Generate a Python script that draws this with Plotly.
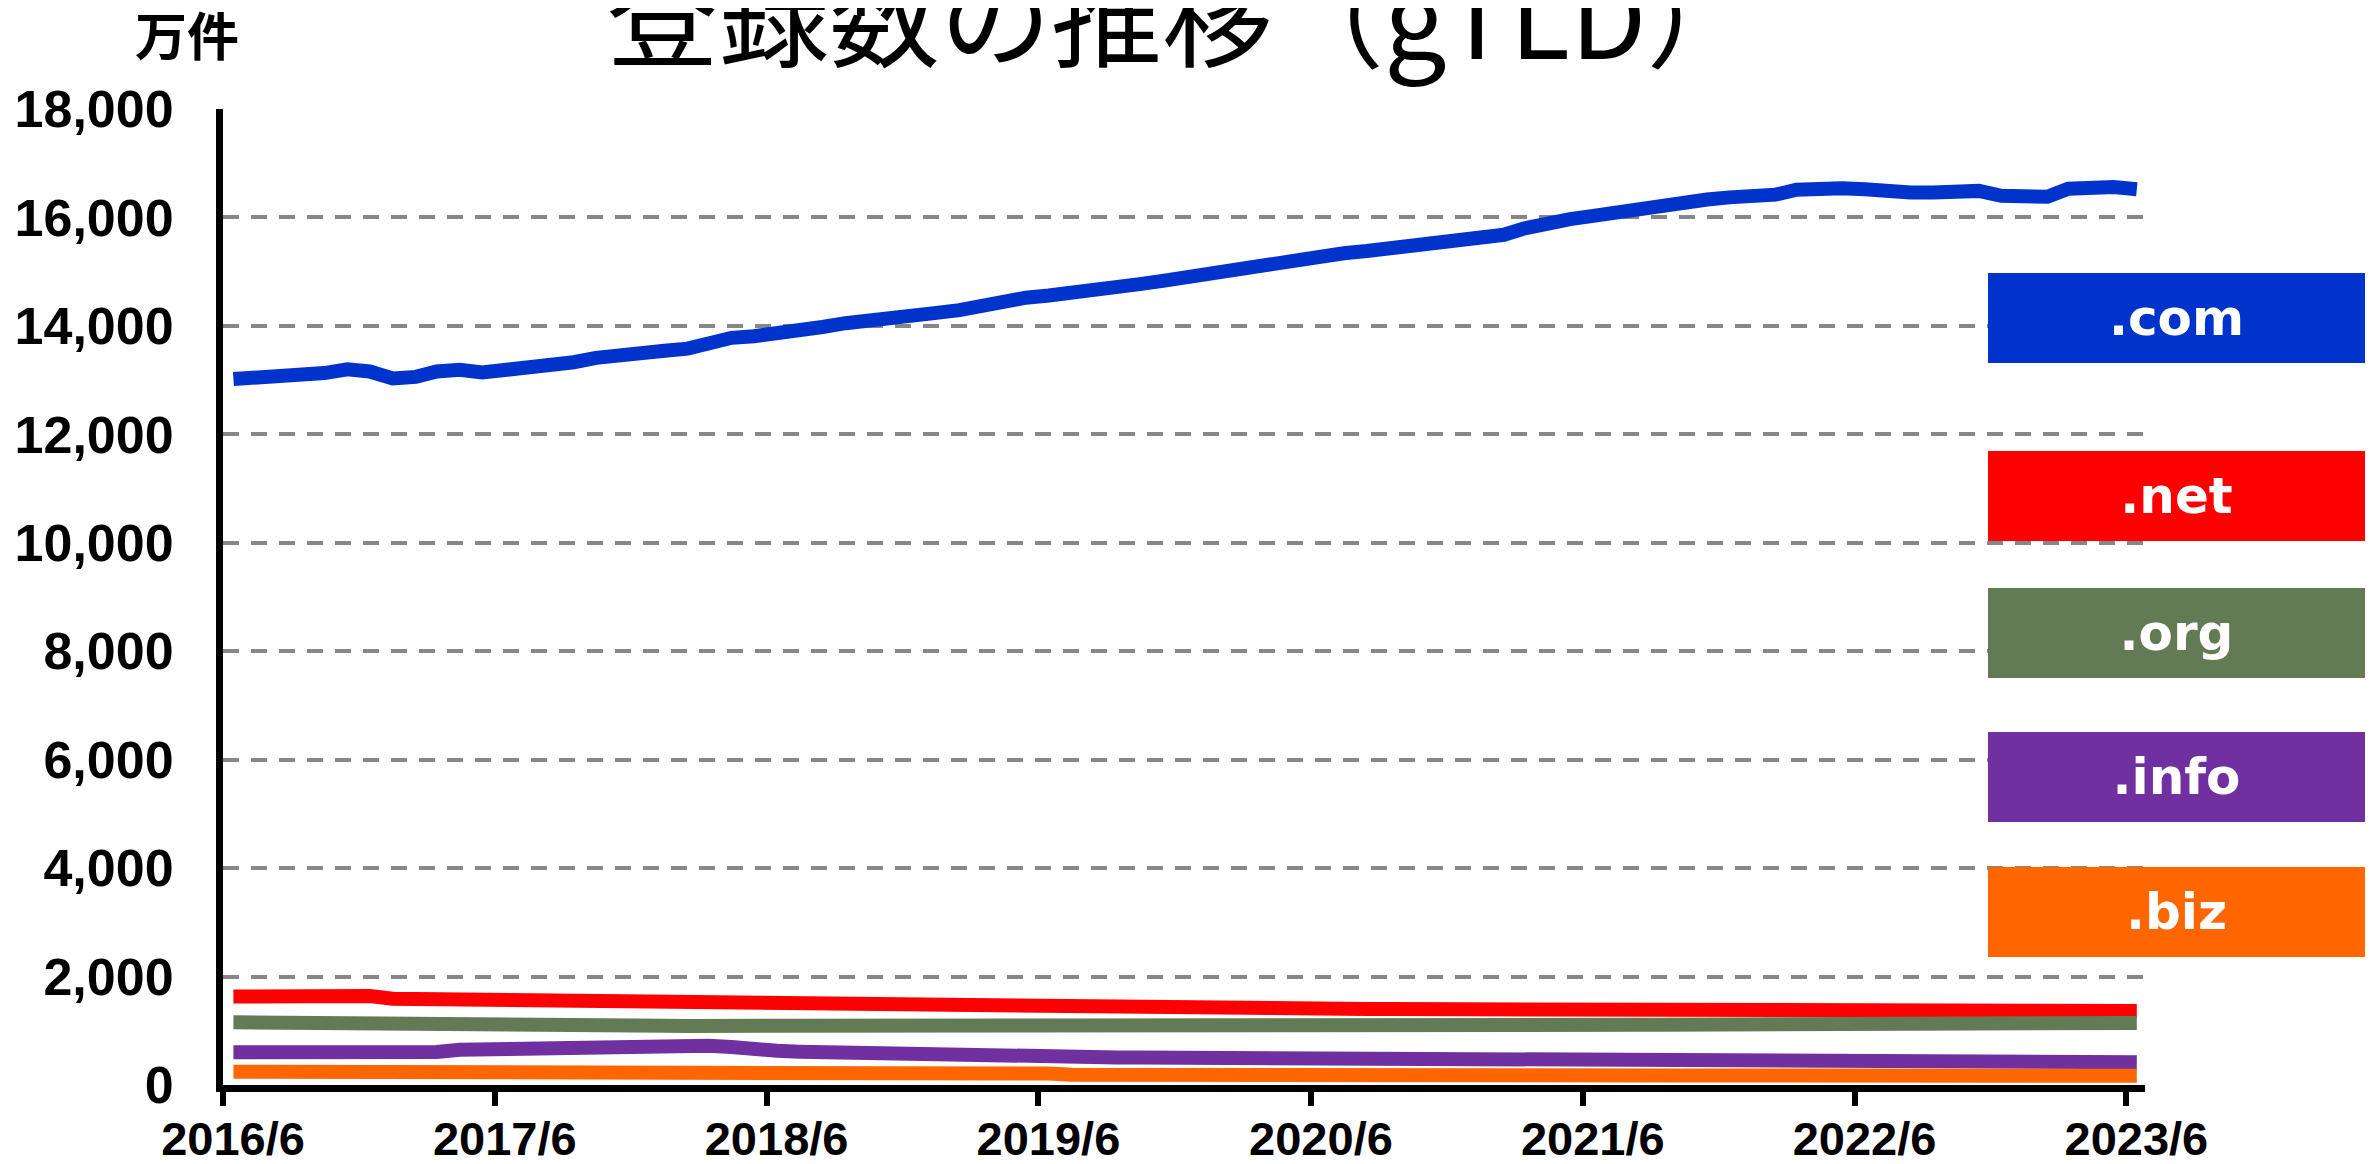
import pandas as pd
import plotly.graph_objects as go

# monthly values, 2016/6 .. 2023/6 (unit: 万件)
months = pd.date_range('2016-06-01', periods=85, freq='MS') + pd.Timedelta(days=14)

com = [13020, 13035, 13050, 13090, 13130, 13200, 13160, 13030, 13060, 13160,
       13190, 13140, 13180, 13220, 13270, 13330, 13410, 13470, 13500, 13540,
       13580, 13700, 13780, 13810, 13850, 13920, 13980, 14050, 14110, 14170,
       14200, 14240, 14290, 14380, 14470, 14520, 14560, 14600, 14640, 14700,
       14770, 14830, 14900, 14960, 15000, 15060, 15170, 15250, 15300, 15340,
       15380, 15430, 15480, 15530, 15580, 15630, 15680, 15800, 15900, 15970,
       16030, 16100, 16170, 16210, 16250, 16330, 16370, 16390, 16420, 16510,
       16540, 16540, 16520, 16470, 16460, 16460, 16470, 16490, 16400, 16360,
       16380, 16530, 16560, 16560, 16520]

net = [1630, 1630, 1630, 1640, 1650, 1670, 1640, 1590, 1585, 1585,
       1590, 1590, 1580, 1570, 1565, 1560, 1555, 1530, 1500, 1490,
       1490, 1485, 1480, 1478, 1475, 1470, 1465, 1460, 1455, 1450,
       1448, 1445, 1440, 1437, 1435, 1430, 1420, 1410, 1400, 1395,
       1390, 1395, 1398, 1400, 1400, 1400, 1400, 1400, 1400, 1400,
       1400, 1400, 1400, 1400, 1400, 1400, 1400, 1400, 1400, 1400,
       1400, 1398, 1396, 1394, 1392, 1390, 1388, 1386, 1385, 1384,
       1382, 1381, 1380, 1379, 1378, 1377, 1376, 1375, 1374, 1372,
       1370, 1369, 1368, 1366, 1365]

org = [1155, 1155, 1150, 1150, 1148, 1145, 1135, 1120, 1110, 1105,
       1100, 1098, 1095, 1095, 1094, 1093, 1092, 1092, 1091, 1091,
       1090, 1090, 1090, 1090, 1090, 1085, 1082, 1080, 1078, 1075,
       1072, 1070, 1066, 1063, 1060, 1050, 1048, 1050, 1055, 1060,
       1062, 1065, 1068, 1072, 1075, 1078, 1080, 1083, 1086, 1089,
       1092, 1094, 1096, 1098, 1100, 1101, 1102, 1104, 1105, 1106,
       1107, 1109, 1111, 1113, 1115, 1117, 1119, 1121, 1123, 1125,
       1127, 1128, 1130, 1131, 1132, 1134, 1135, 1136, 1137, 1138,
       1139, 1140, 1141, 1143, 1144]

info = [603, 600, 598, 597, 595, 593, 588, 575, 560, 610,
        650, 660, 670, 675, 675, 675, 690, 710, 725, 725,
        725, 725, 700, 650, 630, 615, 605, 598, 592, 580,
        560, 540, 520, 512, 510, 510, 509, 509, 508, 508,
        507, 506, 505, 502, 499, 496, 493, 490, 487, 484,
        481, 478, 475, 472, 469, 466, 463, 460, 456, 453,
        450, 447, 444, 441, 438, 435, 432, 429, 426, 423,
        420, 418, 418, 418, 418, 418, 418, 418, 418, 418,
        418, 418, 418, 418, 418]

biz = [245, 245, 248, 250, 255, 262, 250, 225, 222, 224,
       226, 228, 228, 229, 230, 230, 231, 232, 232, 231,
       230, 228, 225, 262, 258, 257, 256, 255, 254, 253,
       252, 251, 250, 248, 247, 245, 210, 188, 185, 184,
       184, 183, 183, 182, 182, 181, 181, 180, 180, 179,
       179, 178, 178, 178, 177, 177, 177, 176, 176, 176,
       175, 175, 175, 175, 174, 174, 174, 174, 174, 173,
       173, 173, 173, 173, 173, 172, 172, 172, 172, 172,
       172, 172, 172, 172, 172]

series_names = ['.com', '.net', '.org', '.info', '.biz']
series_values = [com, net, org, info, biz]
colors = ['#0033CC', '#FF0000', '#627B55', '#7030A0', '#FF6600']

year_ticks = ['2016-06-01', '2017-06-01', '2018-06-01', '2019-06-01',
              '2020-06-01', '2021-06-01', '2022-06-01', '2023-06-01']
year_labels = ['2016/6', '2017/6', '2018/6', '2019/6',
               '2020/6', '2021/6', '2022/6', '2023/6']

W, H = 2377, 1164
OFF = 8  # page body margin, the figure sits 8px in from the top-left corner
# plot area in screen pixels
L, R, T, B = 223, 2145, 109, 1085


def px_x(x):
    return (x - L) / (R - L)


def px_y(y):
    return (B - y) / (B - T)


fig = go.Figure()
for name, vals, col in zip(series_names, series_values, colors):
    fig.add_trace(go.Scatter(x=months, y=vals, name=name, mode='lines',
                             line=dict(color=col, width=14)))

fig.update_layout(
    width=W, height=H,
    margin=dict(l=L - OFF, r=W - (R - OFF), t=T - OFF, b=H - (B - OFF),
                pad=0, autoexpand=False),
    paper_bgcolor='white', plot_bgcolor='white',
    showlegend=False,
)

fig.update_xaxes(type='date', range=['2016-06-01', '2023-06-26'],
                 tickvals=year_ticks, ticktext=year_labels,
                 ticks='outside', ticklen=14, tickwidth=6, tickcolor='black',
                 ticklabelshift=10, ticklabelstandoff=-7, automargin=False,
                 tickfont=dict(family='Liberation Sans', size=47, color='black', weight='bold'),
                 showline=True, linecolor='black', linewidth=7,
                 showgrid=False, zeroline=False)

fig.update_yaxes(range=[0, 18000], tickvals=list(range(0, 18001, 2000)),
                 tickformat=',d', ticks='', ticklabelstandoff=32, automargin=False,
                 tickfont=dict(family='Liberation Sans', size=52, color='black', weight='bold'),
                 showline=True, linecolor='black', linewidth=7,
                 showgrid=True, gridcolor='#878787', gridwidth=4, griddash='16px,12px',
                 zeroline=False)

# title and unit (positions in screen pixels)
fig.add_annotation(text='登録数の推移（gTLD）', xref='paper', yref='paper',
                   x=px_x(1182), y=px_y(10), xanchor='center', yanchor='middle',
                   showarrow=False,
                   font=dict(family='Noto Sans CJK JP', size=111, color='black'))
fig.add_annotation(text='万件', xref='paper', yref='paper',
                   x=px_x(187), y=px_y(34), xanchor='center', yanchor='middle',
                   showarrow=False,
                   font=dict(family='Noto Sans CJK JP', size=52, color='black', weight='bold'))

# legend boxes
box_tops = [273, 451, 588, 732, 867]
for name, col, top in zip(series_names, colors, box_tops):
    fig.add_annotation(text='<b>%s</b>' % name, xref='paper', yref='paper',
                       x=px_x(1988), y=px_y(top), xanchor='left', yanchor='top',
                       width=377, height=90, bgcolor=col, borderpad=0, borderwidth=0,
                       align='center', valign='middle', showarrow=False,
                       font=dict(family='DejaVu Sans', size=50, color='white'))

fig.write_html('out.html')
